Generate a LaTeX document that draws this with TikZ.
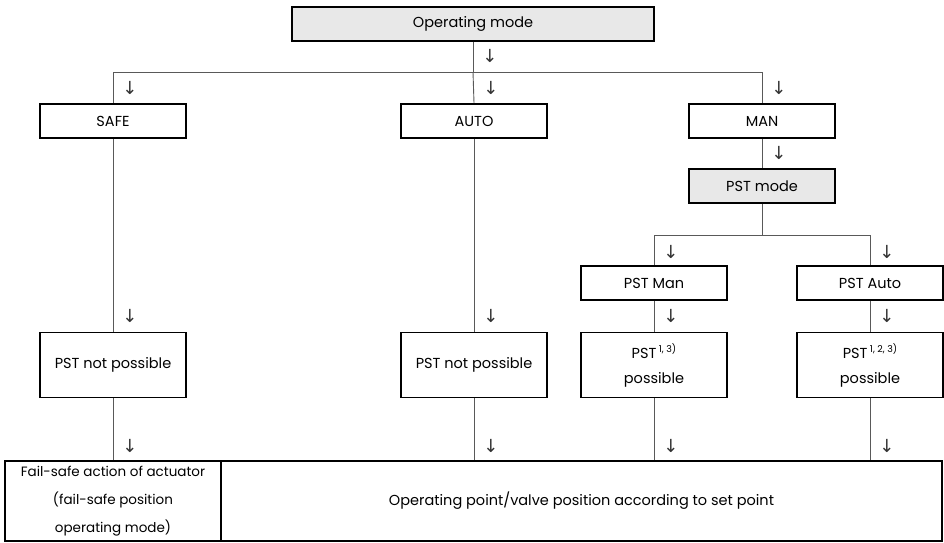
\documentclass[tikz,border=0pt]{standalone}
\usepackage{fontspec}
\setmainfont{Poppins}
\newfontfamily\arrowfont{DejaVu Sans}
\tikzset{
  box/.style={draw=black, line width=1.8pt, minimum width=146pt, minimum height=34pt, inner sep=0pt, align=center, font=\fontsize{14.5}{25}\selectfont},
  graybox/.style={box, fill=gray!18},
  tallbox/.style={box, minimum height=65pt},
  conn/.style={draw=black!65, line width=0.9pt},
  arr/.style={font=\arrowfont\fontsize{18}{18}\selectfont, inner sep=0pt, text=black!80},
}
\newcommand\supnote[1]{\,\raisebox{0.75ex}{\fontsize{9.5}{9.5}\selectfont #1}}
\begin{document}
\begin{tikzpicture}[x=1pt,y=-1pt]
\useasboundingbox (0,0) rectangle (944,542);
% boxes
\node[graybox, minimum width=362pt] (om) at (473,24) {Operating mode};
\node[box] (safe) at (113,121) {SAFE};
\node[box] (auto) at (474,121) {AUTO};
\node[box] (man) at (762,121) {MAN};
\node[graybox] (pstmode) at (762,186) {PST mode};
\node[box] (pstman) at (654,283) {PST Man};
\node[box] (pstauto) at (870,283) {PST Auto};
\node[tallbox] (np1) at (113,365) {PST not possible};
\node[tallbox] (np2) at (474,365) {PST not possible};
\node[tallbox] (pp1) at (654,365) {PST\supnote{1, 3)}\\possible};
\node[tallbox] (pp2) at (870,365) {PST\supnote{1, 2, 3)}\\possible};
\node[box, minimum width=216pt, minimum height=80pt, align=center, font=\fontsize{13.5}{28}\selectfont] (fs) at (113,501) {Fail-safe action of actuator\\(fail-safe position\\operating mode)};
\node[box, minimum width=721pt, minimum height=80pt] (op) at (581.5,501) {Operating point/valve position according to set point};
% junction coordinates
\coordinate (j0) at (473,72);
\coordinate (jl) at (113,72);
\coordinate (jr) at (762,72);
\coordinate (k0) at (762,235);
\coordinate (kl) at (654,235);
\coordinate (kr) at (870,235);
% connectors
\draw[conn] (om.south) -- (j0);
\draw[conn] (jl) -- (jr);
\draw[conn] (jl) -- (safe.north);
\draw[conn] (j0) -- (auto.north);
\draw[conn] (jr) -- (man.north);
\draw[conn] (man.south) -- (pstmode.north);
\draw[conn] (pstmode.south) -- (k0);
\draw[conn] (kl) -- (kr);
\draw[conn] (kl) -- (pstman.north);
\draw[conn] (kr) -- (pstauto.north);
\draw[conn] (safe.south) -- (np1.north);
\draw[conn] (auto.south) -- (np2.north);
\draw[conn] (pstman.south) -- (pp1.north);
\draw[conn] (pstauto.south) -- (pp2.north);
\draw[conn] (np1.south) -- (np1.south |- fs.north);
\draw[conn] (np2.south) -- (np2.south |- op.north);
\draw[conn] (pp1.south) -- (pp1.south |- op.north);
\draw[conn] (pp2.south) -- (pp2.south |- op.north);
% arrow glyphs
\node[arr] (a1) at (490,56) {↓};
\node[arr] (a2) at (130,88) {↓};
\node[arr] (a3) at (491,88) {↓};
\node[arr] (a4) at (779,88) {↓};
\node[arr] (a5) at (779,153) {↓};
\node[arr] (a6) at (671,252) {↓};
\node[arr] (a7) at (887,252) {↓};
\node[arr] (a8) at (130,316) {↓};
\node[arr] (a9) at (491,316) {↓};
\node[arr] (a10) at (671,316) {↓};
\node[arr] (a11) at (887,316) {↓};
\node[arr] (a12) at (130,446) {↓};
\node[arr] (a13) at (491,446) {↓};
\node[arr] (a14) at (671,446) {↓};
\node[arr] (a15) at (887,446) {↓};
\end{tikzpicture}
\end{document}
